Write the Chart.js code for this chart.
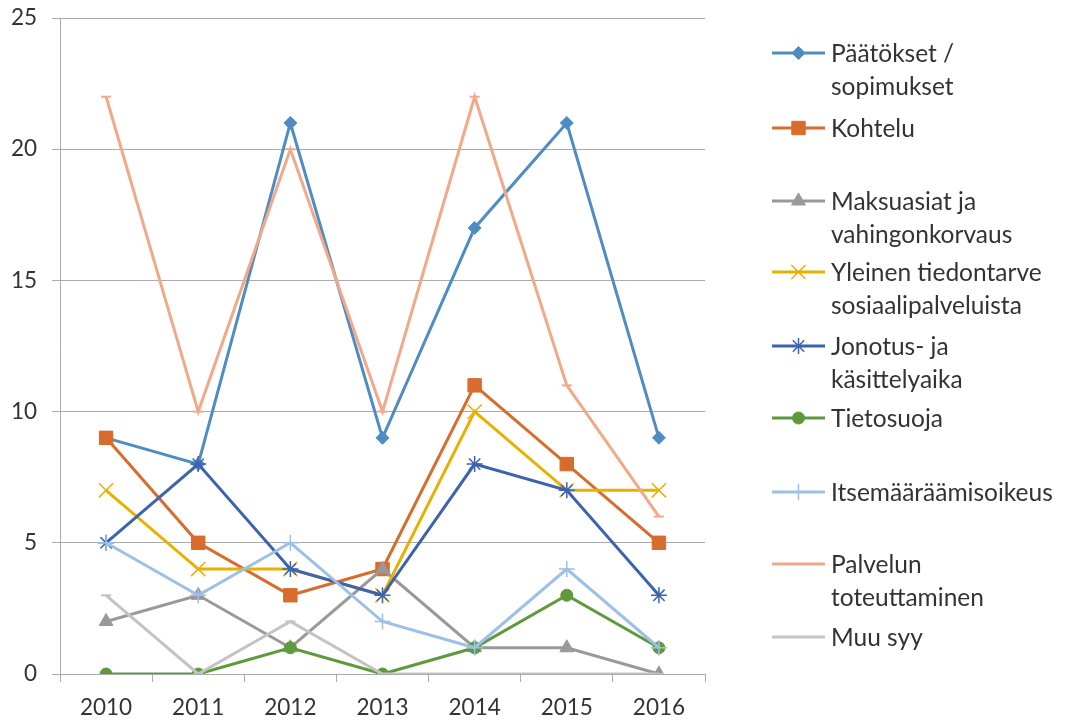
<!DOCTYPE html>
<html>
<head>
<meta charset="utf-8">
<script src="https://cdn.jsdelivr.net/npm/chart.js@4.4.0/dist/chart.umd.min.js"></script>
<style>
  html, body { margin: 0; background: #fff; }
  #wrap { width: 1065px; height: 722px; }
</style>
</head>
<body>
<div id="wrap"><canvas id="kaavio" width="1065" height="722"></canvas></div>
<script>
// Vuodet ja sarjat
const vuodet = ['2010', '2011', '2012', '2013', '2014', '2015', '2016'];
const yTicks = [0, 5, 10, 15, 20, 25];

const paatokset     = [9, 8, 21, 9, 17, 21, 9];
const kohtelu       = [9, 5, 3, 4, 11, 8, 5];
const maksuasiat    = [2, 3, 1, 4, 1, 1, 0];
const yleinen       = [7, 4, 4, 3, 10, 7, 7];
const jonotus       = [5, 8, 4, 3, 8, 7, 3];
const tietosuoja    = [0, 0, 1, 0, 1, 3, 1];
const itsemaaraamis = [5, 3, 5, 2, 1, 4, 1];
const palvelun      = [22, 10, 20, 10, 22, 11, 6];
const muuSyy        = [3, 0, 2, 0, 0, 0, 0];

const sarjaNimet = [
  'Päätökset /\nsopimukset',
  'Kohtelu',
  'Maksuasiat ja\nvahingonkorvaus',
  'Yleinen tiedontarve\nsosiaalipalveluista',
  'Jonotus- ja\nkäsittelyaika',
  'Tietosuoja',
  'Itsemääräämisoikeus',
  'Palvelun\ntoteuttaminen',
  'Muu syy'
];
const sarjaData = [paatokset, kohtelu, maksuasiat, yleinen, jonotus, tietosuoja, itsemaaraamis, palvelun, muuSyy];

// ulkoasu
const varit = ['#4f8cc4', '#d86c2d', '#999999', '#e8b000', '#3b63ae', '#5e9a3c', '#9dc0e6', '#f2a98a', '#c3c3c3'];
const merkit = ['rectRot', 'rect', 'triangle', 'crossRot', 'star', 'circle', 'cross', 'line', 'line'];
const merkkiKoot = [6.5, 9.5, 8, 10, 8, 6, 8, 5, 5];
const merkkiViivat = [1, 1, 1, 1.5, 1.5, 1, 1.5, 2, 2];
const selitteenY = [53, 128, 201, 272, 346, 418, 492, 564, 637];

const FONTTI = 'Lato, "Open Sans", sans-serif';
const TEKSTI = '#333333';
const RUUDUKKO = '#ababab';

const datasets = sarjaNimet.map((nimi, i) => ({
  label: nimi,
  data: sarjaData[i],
  borderColor: varit[i],
  backgroundColor: varit[i],
  borderWidth: 3,
  pointStyle: merkit[i],
  pointRadius: merkkiKoot[i],
  pointHoverRadius: merkkiKoot[i],
  pointBorderWidth: merkkiViivat[i],
  pointBackgroundColor: varit[i],
  pointBorderColor: varit[i],
  tension: 0,
  order: sarjaNimet.length - i // myöhemmät sarjat päällimmäisiksi
}));

// selite piirretään itse, jotta monirivinen teksti onnistuu
const selite = {
  id: 'selite',
  afterDraw(chart) {
    const ctx = chart.ctx;
    ctx.save();
    ctx.font = '24.5px ' + FONTTI;
    ctx.textBaseline = 'middle';
    chart.data.datasets.forEach((ds, i) => {
      const y = selitteenY[i];
      ctx.strokeStyle = ds.borderColor;
      ctx.lineWidth = 3;
      ctx.beginPath();
      ctx.moveTo(772, y);
      ctx.lineTo(825, y);
      ctx.stroke();
      if (ds.pointStyle !== 'line') {
        ctx.fillStyle = ds.borderColor;
        ctx.lineWidth = ds.pointBorderWidth;
        Chart.helpers.drawPoint(ctx, {
          pointStyle: ds.pointStyle,
          radius: ds.pointRadius,
          borderWidth: ds.pointBorderWidth,
          rotation: 0
        }, 798.5, y);
      }
      ctx.fillStyle = TEKSTI;
      ds.label.split('\n').forEach((rivi, r) => ctx.fillText(rivi, 831, y + 1 + r * 33));
    });
    ctx.restore();
  }
};

new Chart(document.getElementById('kaavio'), {
  type: 'line',
  data: { labels: vuodet, datasets },
  options: {
    responsive: false,
    animation: false,
    layout: { padding: { top: 18, right: 360, left: 0, bottom: 0 } },
    plugins: {
      legend: { display: false },
      tooltip: {
        callbacks: {
          label: c => c.dataset.label.replace('\n', ' ') + ': ' + c.raw
        }
      }
    },
    scales: {
      x: {
        offset: true,
        grid: {
          offset: true,
          drawOnChartArea: false,
          drawTicks: true,
          tickLength: 8,
          color: RUUDUKKO,
          lineWidth: 1
        },
        border: { color: RUUDUKKO, width: 1 },
        ticks: { color: TEKSTI, font: { family: FONTTI, size: 22.5 }, padding: 12 },
        afterFit: s => { s.height = 48; s.paddingLeft = 0; s.paddingRight = 0; }
      },
      y: {
        min: 0,
        max: 25,
        afterBuildTicks: s => { s.ticks = yTicks.map(v => ({ value: v })); },
        grid: { color: RUUDUKKO, lineWidth: 1, drawTicks: true, tickLength: 8 },
        border: { color: RUUDUKKO, width: 1 },
        ticks: { color: TEKSTI, font: { family: FONTTI, size: 22.5 }, padding: 15 },
        afterFit: s => { s.width = 60; s.paddingTop = 0; s.paddingBottom = 0; }
      }
    }
  },
  plugins: [selite]
});
</script>
</body>
</html>
